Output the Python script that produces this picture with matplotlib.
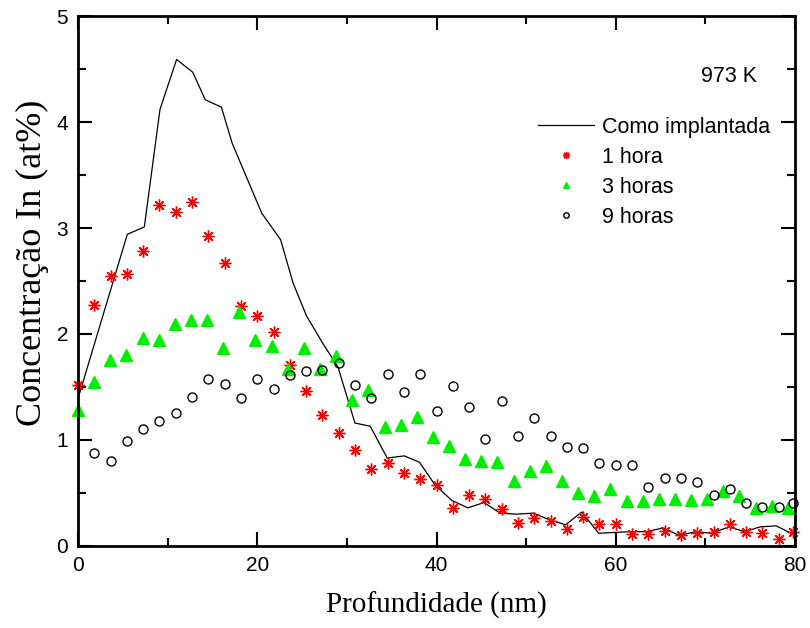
import matplotlib
matplotlib.use("Agg")
import matplotlib.pyplot as plt

# profundidade (nm) dos pontos medidos
depth = [0.0, 1.82, 3.64, 5.45, 7.27, 9.09, 10.91, 12.73, 14.55, 16.36,
         18.18, 20.0, 21.82, 23.64, 25.45, 27.27, 29.09, 30.91, 32.73, 34.55,
         36.36, 38.18, 40.0, 41.82, 43.64, 45.45, 47.27, 49.09, 50.91, 52.73,
         54.55, 56.36, 58.18, 60.0, 61.82, 63.64, 65.45, 67.27, 69.09, 70.91,
         72.73, 74.55, 76.36, 78.18, 79.8]
depth_3h = [0.0, 1.8, 3.6, 5.4, 7.2, 9.0, 10.8, 12.6, 14.4, 16.2,
            18.0, 19.8, 21.6, 23.4, 25.2, 27.0, 28.8, 30.6, 32.4, 34.2,
            36.0, 37.8, 39.6, 41.4, 43.2, 45.0, 46.8, 48.6, 50.4, 52.2,
            54.0, 55.8, 57.6, 59.4, 61.2, 63.0, 64.8, 66.6, 68.4, 70.2,
            72.0, 73.8, 75.6, 77.4, 79.2]
depth_9h = depth[1:]

# como implantada (linha)
x_impl = [0.0, 5.5, 7.4, 9.15, 11.0, 12.8, 14.2, 16.0, 17.2, 20.5, 22.6, 24.0,
          25.5, 27.4, 29.0, 30.9, 32.6, 34.5, 36.4, 38.1, 39.8, 41.7, 43.5,
          45.3, 47.1, 48.9, 50.8, 52.5, 54.4, 56.2, 58.1, 61.6, 63.4, 65.3,
          67.1, 68.9, 70.7, 72.6, 74.4, 76.1, 77.9, 79.8]
y_impl = [1.39, 2.94, 3.01, 4.12, 4.59, 4.47, 4.21, 4.14, 3.80, 3.14, 2.89, 2.48,
          2.17, 1.90, 1.69, 1.16, 1.13, 0.83, 0.85, 0.79, 0.58, 0.43, 0.36,
          0.41, 0.31, 0.30, 0.31, 0.25, 0.20, 0.32, 0.12, 0.135, 0.135, 0.17,
          0.10, 0.135, 0.12, 0.18, 0.135, 0.18, 0.19, 0.11]

c_1h = [1.52, 2.27, 2.55, 2.57, 2.78, 3.22, 3.15, 3.25, 2.92, 2.67,
        2.26, 2.17, 2.02, 1.71, 1.46, 1.24, 1.07, 0.91, 0.73, 0.78,
        0.69, 0.63, 0.58, 0.36, 0.48, 0.44, 0.35, 0.22, 0.26, 0.24,
        0.16, 0.27, 0.21, 0.21, 0.11, 0.11, 0.14, 0.10, 0.12, 0.13,
        0.21, 0.13, 0.12, 0.07, 0.13]
c_3h = [1.28, 1.55, 1.75, 1.80, 1.96, 1.94, 2.09, 2.13, 2.13, 1.87,
        2.21, 1.94, 1.89, 1.67, 1.87, 1.67, 1.79, 1.38, 1.47, 1.12,
        1.14, 1.22, 1.03, 0.94, 0.82, 0.80, 0.79, 0.61, 0.71, 0.75,
        0.61, 0.50, 0.47, 0.54, 0.42, 0.42, 0.44, 0.44, 0.43, 0.44,
        0.52, 0.47, 0.36, 0.38, 0.36]
c_9h = [0.88, 0.80, 0.99, 1.10, 1.18, 1.25, 1.41, 1.58, 1.53,
        1.40, 1.58, 1.48, 1.61, 1.65, 1.66, 1.73, 1.52, 1.40, 1.62,
        1.45, 1.62, 1.27, 1.51, 1.31, 1.01, 1.37, 1.04, 1.21, 1.04,
        0.93, 0.92, 0.78, 0.76, 0.76, 0.56, 0.64, 0.64, 0.60, 0.48,
        0.54, 0.41, 0.37, 0.37, 0.41]

plt.rcParams['font.family'] = ['Liberation Sans', 'DejaVu Sans']

fig = plt.figure(figsize=(8.1, 6.28), dpi=100)
ax = fig.add_axes([0.0963, 0.1306, 0.8852, 0.8439])

ax.plot(x_impl, y_impl, color='black', lw=0.9, label='Como implantada')
ax.plot(depth, c_1h, ls='none', marker=(8, 2, 0), ms=8.5, mew=1.0,
        color='#ff0000', label='1 hora', clip_on=False)
ax.plot(depth_3h, c_3h, ls='none', marker='^', ms=8, color='#00ee00',
        mec='#00ee00', label='3 horas', clip_on=False)
ax.plot(depth_9h, c_9h, ls='none', marker='o', ms=6.5, mfc='none', mec='black',
        mew=1.0, label='9 horas', clip_on=False)

ax.set_xlim(0, 80)
ax.set_ylim(0, 5)
ax.set_xticks([0, 20, 40, 60, 80])
ax.set_xticks([10, 30, 50, 70], minor=True)
ax.set_yticks([0, 1, 2, 3, 4, 5])
ax.set_yticks([0.5, 1.5, 2.5, 3.5, 4.5], minor=True)
ax.tick_params(which='both', direction='in', top=True, right=True,
               labelsize=15, width=1.5, pad=7)
ax.tick_params(which='major', length=10)
ax.tick_params(which='minor', length=6)
for s in ax.spines.values():
    s.set_linewidth(2)

ax.set_xlabel('Profundidade (nm)', family='Liberation Serif', fontsize=21, labelpad=12)
ax.set_ylabel('Concentração In (at%)', family='Liberation Serif', fontsize=26)
ax.yaxis.set_label_coords(-0.04, 0.534)

ax.text(0.947, 0.886, '973 K', transform=ax.transAxes, fontsize=15.5,
        ha='right', va='center')

ax.legend(loc='upper left', bbox_to_anchor=(0.629, 0.826), frameon=False,
          fontsize=15.5, markerscale=0.6, handlelength=2.6, handletextpad=0.4,
          labelspacing=0.42, borderaxespad=0)

fig.savefig('out.png', dpi=100)
